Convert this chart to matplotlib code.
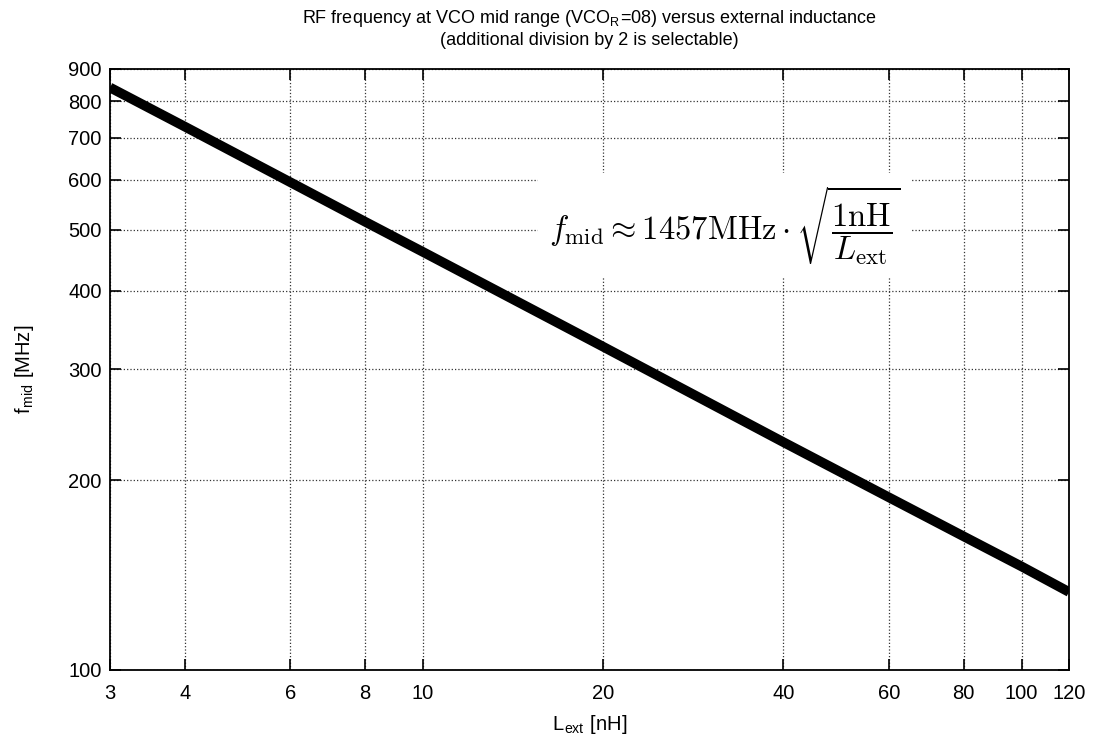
import matplotlib.pyplot as plt
from matplotlib.ticker import FixedLocator, NullLocator, FixedFormatter

plt.rcParams['font.family'] = ['Liberation Sans', 'DejaVu Sans']
plt.rcParams['mathtext.fontset'] = 'cm'

# Nilai
L_ext = [3, 4, 6, 8, 10, 20, 40, 60, 80, 100, 120]            # nH
f_mid = [841, 729, 595, 515, 461, 326, 230, 188, 163, 146, 133]  # MHz

x_ticks = [3, 4, 6, 8, 10, 20, 40, 60, 80, 100, 120]
y_ticks = [100, 200, 300, 400, 500, 600, 700, 800, 900]

fig = plt.figure(figsize=(10.98, 7.40), dpi=100)
ax = fig.add_axes([0.1002, 0.0946, 0.8734, 0.8122])

ax.plot(L_ext, f_mid, color='black', lw=7, solid_capstyle='butt')

ax.set_xscale('log')
ax.set_yscale('log')
ax.set_xlim(3, 120)
ax.set_ylim(100, 900)

ax.xaxis.set_major_locator(FixedLocator(x_ticks))
ax.xaxis.set_major_formatter(FixedFormatter([str(t) for t in x_ticks]))
ax.xaxis.set_minor_locator(NullLocator())
ax.yaxis.set_major_locator(FixedLocator(y_ticks))
ax.yaxis.set_major_formatter(FixedFormatter([str(t) for t in y_ticks]))
ax.yaxis.set_minor_locator(NullLocator())

ax.tick_params(direction='in', length=8, width=1.2, top=True, right=True,
               labelsize=14.5)
ax.tick_params(axis='x', pad=10)
ax.tick_params(axis='y', pad=6)
ax.grid(True, linestyle=':', color='#333333', linewidth=0.9)
for s in ax.spines.values():
    s.set_linewidth(1.3)

ax.set_xlabel('L$_\\mathregular{ext}$ [nH]', fontsize=14.5, labelpad=7)
ax.set_ylabel('f$_\\mathregular{mid}$ [MHz]', fontsize=14.5, labelpad=23)
ax.set_title('RF frequency at VCO mid range (VCO$_\\mathregular{R}$=08) versus external inductance\n'
             '(additional division by 2 is selectable)', fontsize=13, pad=17,
             linespacing=1.25)

ax.text(0.641, 0.740,
        r'$f_{\rm mid} \approx 1457{\rm MHz}\cdot\sqrt{\dfrac{1{\rm nH}}{L_{\rm ext}}}$',
        transform=ax.transAxes, fontsize=23.5, ha='center', va='center',
        bbox=dict(facecolor='white', edgecolor='none', pad=8), zorder=5)

fig.savefig('out.png', dpi=100)
